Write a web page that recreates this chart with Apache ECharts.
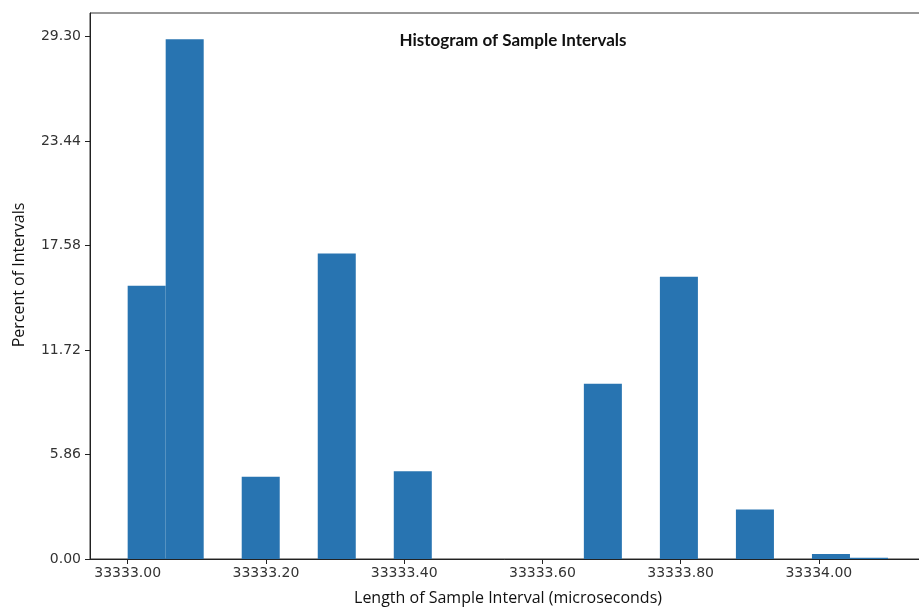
<!DOCTYPE html>
<html>
<head>
<meta charset="utf-8">
<script src="https://cdn.jsdelivr.net/npm/echarts@6/dist/echarts.min.js"></script>
<style>
html,body{margin:0;padding:0;background:#fff;overflow:hidden;}
#chart{width:919px;height:607px;}
</style>
</head>
<body>
<div id="chart"></div>
<script>
// Histogram bin edges (microseconds)
const binEdges = [33333.000, 33333.055, 33333.110, 33333.165, 33333.220, 33333.275, 33333.330,
  33333.385, 33333.440, 33333.495, 33333.550, 33333.605, 33333.660, 33333.715, 33333.770,
  33333.825, 33333.880, 33333.935, 33333.990, 33334.045, 33334.100];
// Percent of intervals per bin
const percents = [15.33, 29.16, 0, 4.62, 0, 17.14, 0, 4.92, 0, 0,
  0, 0, 9.83, 0, 15.83, 0, 2.77, 0, 0.28, 0.07];
// Tick values
const xTicks = [33333.0, 33333.2, 33333.4, 33333.6, 33333.8, 33334.0];
const yTicks = [0, 5.86, 11.72, 17.58, 23.44, 29.30];

const titleText = 'Histogram of Sample Intervals';
const xLabel = 'Length of Sample Interval (microseconds)';
const yLabel = 'Percent of Intervals';

const bins = percents.map((p, i) => [binEdges[i], binEdges[i + 1], p]);

const chart = echarts.init(document.getElementById('chart'), null, {renderer: 'canvas'});
chart.setOption({
  animation: false,
  backgroundColor: '#fff',
  title: {
    text: titleText,
    left: 508,
    top: 27,
    textAlign: 'center',
    textStyle: {fontFamily: 'Lato', fontWeight: 'bold', fontSize: 17, color: '#111'}
  },
  grid: {left: 90, top: 13, width: 836, bottom: 48, show: true, borderColor: '#333', borderWidth: 1,
    containLabel: false, outerBoundsMode: 'none'},
  xAxis: {
    type: 'value',
    min: 33332.9455,
    max: 33334.155,
    name: xLabel,
    nameLocation: 'middle',
    nameGap: 31,
    nameTextStyle: {fontFamily: 'Open Sans', fontSize: 16, color: '#111'},
    splitLine: {show: false},
    axisLine: {show: true, lineStyle: {color: '#222', width: 1}},
    axisTick: {show: true, length: 5, inside: false, customValues: xTicks, lineStyle: {color: '#222'}},
    axisLabel: {
      customValues: xTicks,
      margin: 7,
      fontFamily: 'DejaVu Sans', fontSize: 14, color: '#333',
      formatter: v => Number(v).toFixed(2)
    }
  },
  yAxis: {
    type: 'value',
    min: 0,
    max: 30.63,
    name: yLabel,
    nameLocation: 'middle',
    nameGap: 63,
    nameTextStyle: {fontFamily: 'Open Sans', fontSize: 16, color: '#111', padding: [0, 0, 0, 22]},
    splitLine: {show: false},
    axisLine: {show: true, lineStyle: {color: '#222', width: 1}},
    axisTick: {show: true, length: 5, inside: false, customValues: yTicks, lineStyle: {color: '#222'}},
    axisLabel: {
      customValues: yTicks,
      margin: 9,
      fontFamily: 'DejaVu Sans', fontSize: 14, color: '#333',
      formatter: v => Number(v).toFixed(2)
    }
  },
  series: [{
    type: 'custom',
    data: bins,
    encode: {x: [0, 1], y: 2},
    renderItem: function (params, api) {
      const p0 = api.coord([api.value(0), 0]);
      const p1 = api.coord([api.value(1), api.value(2)]);
      return {
        type: 'rect',
        shape: {x: p0[0], y: p1[1], width: p1[0] - p0[0], height: p0[1] - p1[1]},
        style: {fill: '#2874b1'}
      };
    }
  }]
});
</script>
</body>
</html>
